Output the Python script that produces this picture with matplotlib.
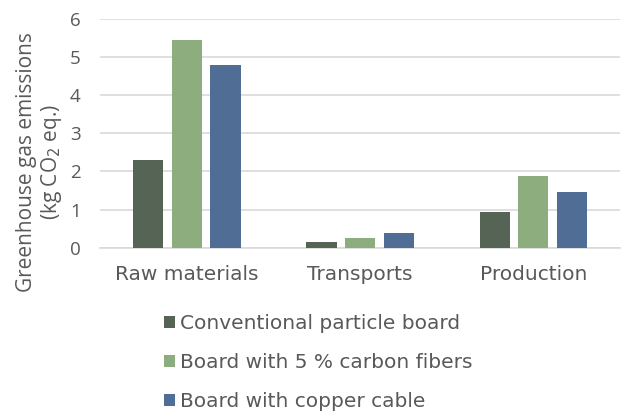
import matplotlib
matplotlib.use("Agg")
import matplotlib.pyplot as plt
import numpy as np

categories = ["Raw materials", "Transports", "Production"]
series_names = ["Conventional particle board", "Board with 5 % carbon fibers", "Board with copper cable"]
conventional = [2.31, 0.15, 0.94]
carbon = [5.45, 0.26, 1.89]
copper = [4.78, 0.39, 1.46]
colors = ["#556454", "#8DAD7E", "#506D96"]
yticks = [0, 1, 2, 3, 4, 5, 6]

plt.rcParams['font.family'] = ['DejaVu Sans']
txt = "#595959"

fig = plt.figure(figsize=(6.3, 4.16), dpi=100)
ax = fig.add_axes([0.159, 0.404, 0.825, 0.5515])

x = np.arange(len(categories))
w = 0.175
step = 0.223
for i, (vals, name, c) in enumerate(zip([conventional, carbon, copper], series_names, colors)):
    ax.bar(x + (i - 1) * step, vals, width=w, color=c, label=name, zorder=3)

ax.set_xlim(-0.5, 2.5)
ax.set_ylim(0, 6)
ax.set_yticks(yticks)
ax.set_xticks(x)
ax.set_xticklabels(categories)
ax.yaxis.grid(True, color="#D9D9D9", linewidth=1.2, zorder=0)
for s in ["top", "right", "left"]:
    ax.spines[s].set_visible(False)
ax.spines["bottom"].set_color("#D9D9D9")
ax.spines["bottom"].set_linewidth(1.2)
ax.tick_params(axis="x", length=0, labelsize=14.5, colors=txt, pad=12)
ax.tick_params(axis="y", length=0, labelsize=13.5, colors=txt, pad=14)
for lab in ax.get_yticklabels():
    lab.set_fontfamily(["Open Sans", "DejaVu Sans"])

fig.text(40 / 630, 1 - 162 / 416, "Greenhouse gas emissions\n(kg CO$_2$ eq.)",
         rotation=90, ha="center", va="center", multialignment="center",
         fontsize=15, color=txt, linespacing=1.12, family=["Open Sans", "DejaVu Sans"])

leg = fig.legend(loc="upper left", bbox_to_anchor=(0.248, 0.265), frameon=False,
                 fontsize=14.5, labelcolor=txt, handlelength=0.55, handleheight=0.55,
                 handletextpad=0.22, labelspacing=1.0, borderaxespad=0)

fig.savefig("out.png", dpi=100)
